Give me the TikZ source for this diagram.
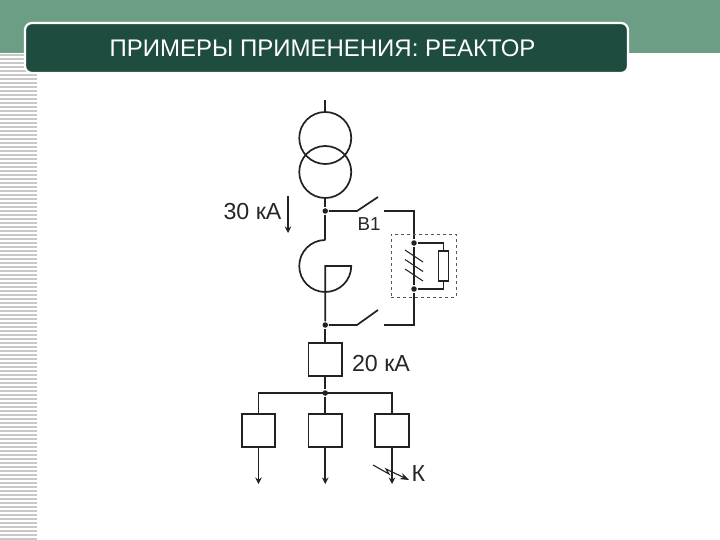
\documentclass[tikz,border=0pt]{standalone}
\usepackage{fontspec}
\setmainfont{Liberation Sans}
\usetikzlibrary{arrows.meta, calc}
\definecolor{headgreen}{HTML}{6B9E85}
\definecolor{titlegreen}{HTML}{1E4D40}
\definecolor{stripegrey}{HTML}{C8C8C8}
\definecolor{wire}{HTML}{222222}

\begin{document}
\begin{tikzpicture}[
    x = 1pt, y = -1pt,
    >= {Stealth[length = 6.5pt, width = 6.5pt]},
    line width = 1.7pt,
    color = wire,
    winding/.style = {circle,
      draw,
      inner sep = 0pt,
      minimum size = 52pt},
    breaker/.style = {rectangle,
      draw,
      inner sep = 0pt,
      minimum size = 33.5pt},
    fuse/.style = {rectangle,
      draw,
      line width = 1.1pt,
      inner sep = 0pt,
      minimum width = 10pt,
      minimum height = 30pt},
    dot/.style = {circle,
      fill,
      inner sep = 0pt,
      minimum size = 5.5pt},
    label/.style = {inner sep = 0pt, text = black!85, font = \fontsize{23.2}{28}\selectfont}
    ]

    \useasboundingbox (0, 0) rectangle (720, 540);

    % header
    \fill [headgreen] (0, 0) rectangle (720, 53);
    \foreach \y in {55, 59, ..., 539} {
      \draw [stripegrey, line width = 1.4pt] (0, \y) -- (37, \y);
    }
    \node at (326.5, 48) [rectangle, rounded corners = 7pt, draw = white, line width = 2.2pt, fill = titlegreen,
      minimum width = 603pt, minimum height = 50pt, name = title] {};
    \node at (322.5, 48) [text = white, inner sep = 0pt, font = \fontsize{24}{28}\selectfont, name = titletext]
      {ПРИМЕРЫ ПРИМЕНЕНИЯ: РЕАКТОР};

    % transformer
    \node at (325.25, 138) [winding, name = T1] {};
    \node at (325.25, 172) [winding, name = T2] {};
    \coordinate (feed) at (325.25, 100);
    \draw (feed) to (T1.north);

    % bus dots
    \node at (325.25, 211) [dot, name = J1] {};
    \node at (325.25, 325) [dot, name = J2] {};
    \node at (325.25, 393) [dot, name = J3] {};
    \node at (414, 243) [dot, name = J4] {};
    \node at (414, 289) [dot, name = J5] {};

    % reactor
    \coordinate (Rtop) at (325.25, 240);
    \coordinate (Rmid) at (325.25, 266);
    \draw (T2.south) to (J1);
    \draw (J1) to (Rtop);
    \draw (Rtop) arc [start angle = 90, end angle = 360, radius = 26pt] -- (Rmid) -- (J2);

    % bypass switches
    \coordinate (S1a) at (357, 211);
    \coordinate (S1b) at (378, 197);
    \coordinate (S1c) at (384, 211);
    \coordinate (S2a) at (357, 325);
    \coordinate (S2b) at (378, 310);
    \coordinate (S2c) at (384, 325);
    \coordinate (S1d) at (414, 211);
    \coordinate (S2d) at (414, 325);
    \draw (J1) -- (S1a) -- (S1b);
    \draw (J2) -- (S2a) -- (S2b);
    \draw (S1c) -- (S1d) -- (J4) -- (J5) -- (S2d) -- (S2c);

    % arrester group
    \node at (443.5, 266) [fuse, name = F] {};
    \draw [line width = 1.1pt] (J4) -| (F.north);
    \draw [line width = 1.1pt] (J5) -| (F.south);
    \foreach \y in {0, 9.5, 19} {
      \draw [line width = 1.1pt] (405, 250 + \y) -- (423, 262 + \y);
    }
    \node at (423.5, 265.5) [rectangle, draw = black!65, dashed, line width = 0.8pt,
      minimum width = 65pt, minimum height = 63pt, name = G] {};

    % feeders
    \node at (325.25, 359.5) [breaker, name = Q] {};
    \node at (258.5, 430.5) [breaker, name = QL] {};
    \node at (325.25, 430.5) [breaker, name = QM] {};
    \node at (392, 430.5) [breaker, name = QR] {};
    \coordinate (busL) at (258.5, 393);
    \coordinate (busR) at (392, 393);
    \coordinate (outL) at (258.5, 484);
    \coordinate (outM) at (325.25, 484);
    \coordinate (outR) at (392, 484);

    \draw (J2) to (Q.north);
    \draw (Q.south) to (J3);
    \draw (QL.north) -- (busL) -- (busR) -- (QR.north);
    \draw (J3) to (QM.north);
    \draw [->] (QL.south) to (outL);
    \draw [->] (QM.south) to (outM);
    \draw [->] (QR.south) to (outR);

    % current arrow and fault
    \coordinate (Ia) at (288, 196);
    \coordinate (Ib) at (288, 233);
    \draw [->] (Ia) to (Ib);
    \coordinate (Fa) at (373, 465);
    \coordinate (Fb) at (389, 474);
    \coordinate (Fc) at (386, 469);
    \coordinate (Fd) at (409, 480);
    \draw [-{Stealth[length = 9pt, width = 6.5pt]}, line width = 1.1pt] (Fa) -- (Fb) -- (Fc) -- (Fd);

    % labels
    \node at (252.5, 212) [label, name = L30] {30 кА};
    \node at (369, 224.5) [label, font = \fontsize{18.7}{22}\selectfont, name = LB] {В1};
    \node at (381, 364) [label, name = L20] {20 кА};
    \node at (418.5, 474) [label, name = LK] {К};

  \end{tikzpicture}
\end{document}
